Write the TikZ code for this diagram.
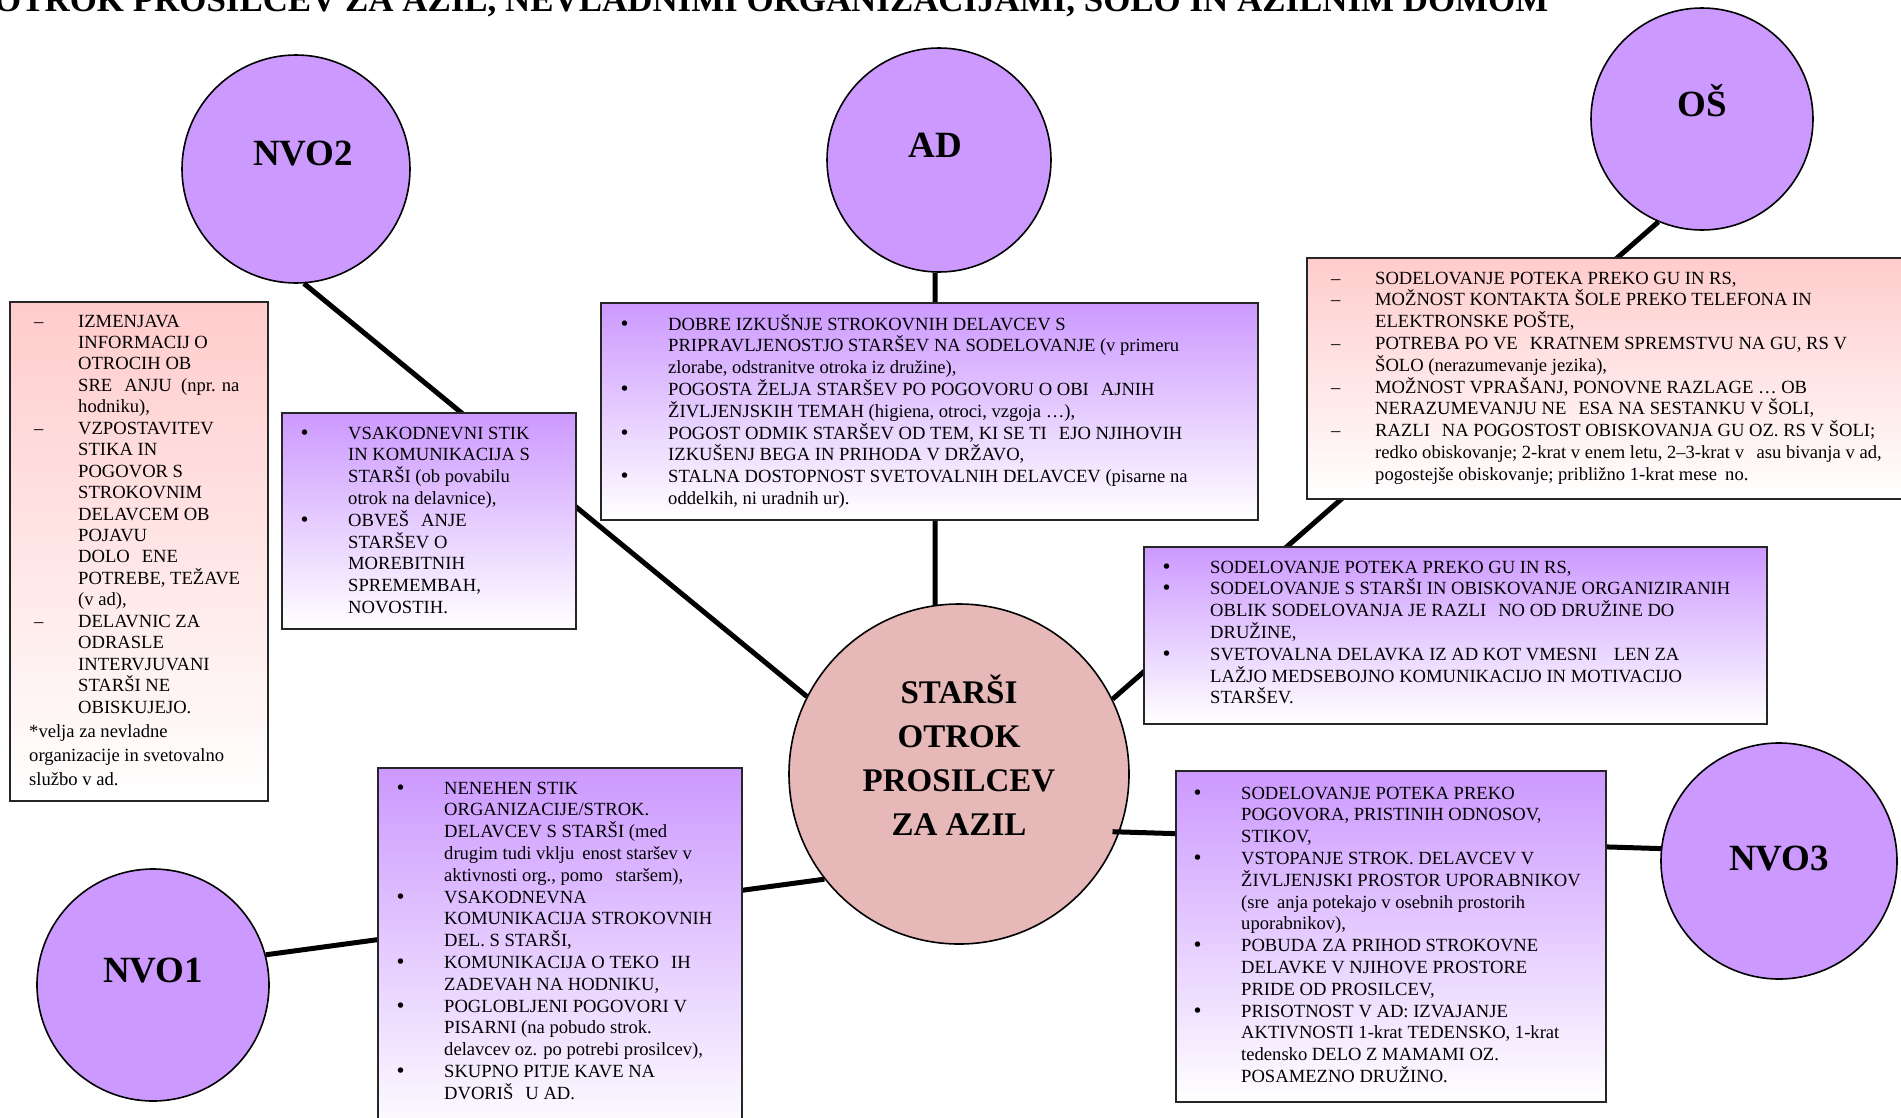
\documentclass[tikz,border=0pt]{standalone}
\usepackage{fontspec}
\setmainfont{Liberation Serif}
\newfontfamily\dvs{DejaVu Sans}
\usetikzlibrary{calc}
\definecolor{lav}{RGB}{204,153,255}
\definecolor{rose}{RGB}{230,184,183}
\definecolor{pinktop}{RGB}{255,204,204}
\newcommand\bul{{\dvs •}}
\newcommand\bitm[2][\bul]{\hbox{\llap{\makebox[49pt][l]{#1}}#2}}
\newcommand\ditm[1]{\hbox{\llap{\makebox[44pt][l]{–}}#1}}
\newcommand\ctl[1]{\hbox{#1}}
\newcommand\cln[1]{\hbox to 0pt{\hss#1\hss}}
\newcommand\gapU{\hspace*{12pt}}
\newcommand\gapL{\hspace*{8pt}}
\tikzset{
  circ/.style={circle, draw=black, line width=1.6pt, fill=lav, minimum size=#1, inner sep=0pt, text height=0pt, text depth=6pt, font=\fontsize{37}{40}\selectfont\bfseries},
  pbox/.style={rectangle, draw=black!85, line width=1.5pt, top color=lav, bottom color=white, anchor=north west, inner sep=0pt},
  rbox/.style={pbox, top color=pinktop, bottom color=white},
  txt/.style={anchor=base west, inner sep=0pt, font=\fontsize{18.6}{21.8}\selectfont},
  link/.style={line width=5pt, black},
}
\begin{document}
\begin{tikzpicture}[x=1pt,y=-1pt]
\useasboundingbox (0,0) rectangle (1901,1117);
\clip (0,0) rectangle (1901,1117);
\fill[white] (0,0) rectangle (1901,1117);
% title (cut at top, as in the reference)
\node[anchor=base west, inner sep=0pt, font=\fontsize{34.9}{36}\selectfont\bfseries] (title) at (-6,11) {OTROK PROSILCEV ZA AZIL, NEVLADNIMI ORGANIZACIJAMI, ŠOLO IN AZILNIM DOMOM};
% circles
\node[circ=228pt, text depth=8pt] (nvo2) at (296,169) {\hspace*{14pt}NVO2};
\node[circ=224pt] (ad) at (939,160) {AD\hspace*{8pt}};
\node[circ=222pt] (os) at (1702,119) {OŠ};
\node[circ=232pt] (nvo1) at (153,985) {NVO1};
\node[circ=236pt, text height=18pt, text depth=0pt] (nvo3) at (1779,861) {NVO3};
\node[circle, draw=black, line width=1.6pt, fill=rose, minimum size=340pt, inner sep=0pt] (ctr) at (959,774) {};
\node[anchor=base, inner sep=0pt, font=\fontsize{33}{44}\selectfont\bfseries] (ctrtxt) at (959,703) {\vtop{\cln{STARŠI}\cln{OTROK}\cln{PROSILCEV}\cln{ZA AZIL}}};
% connectors
\coordinate (c3) at ($(ctr)+(-20.6:164pt)$);
\draw[link] (nvo2.-86) -- (ctr.153);
\draw[link] (ad.-92) -- (ctr.98);
\draw[link] (os.-113) -- (ctr.26.6);
\draw[link] (nvo1.15) -- (ctr.218.7);
\draw[link] (nvo3.174) -- (c3);
% boxes
\node[rbox, minimum width=258pt, minimum height=499pt] (lbox) at (9,301) {};
\node[pbox, minimum width=294pt, minimum height=216pt] (nvo2box) at (281,412) {};
\node[pbox, minimum width=657pt, minimum height=217pt] (adbox) at (600,302) {};
\node[rbox, minimum width=620pt, minimum height=241pt] (osbox) at (1306,257) {};
\node[pbox, minimum width=623pt, minimum height=177pt] (midbox) at (1143,546) {};
\node[pbox, minimum width=364pt, minimum height=370pt] (nvo1box) at (377,767) {};
\node[pbox, minimum width=430pt, minimum height=331pt] (nvo3box) at (1175,770) {};
% box texts
\node[txt, font=\fontsize{18.6}{21.45}\selectfont] (ltxt) at (78,327) {\vtop{%
\ditm{IZMENJAVA}
\ctl{INFORMACIJ O}
\ctl{OTROCIH OB}
\ctl{SRE\gapU ANJU\ \ (npr. na}
\ctl{hodniku),}
\ditm{VZPOSTAVITEV}
\ctl{STIKA IN}
\ctl{POGOVOR S}
\ctl{STROKOVNIM}
\ctl{DELAVCEM OB}
\ctl{POJAVU}
\ctl{DOLO\gapU ENE}
\ctl{POTREBE, TEŽAVE}
\ctl{(v ad),}
\ditm{DELAVNIC ZA}
\ctl{ODRASLE}
\ctl{INTERVJUVANI}
\ctl{STARŠI NE}
\ctl{OBISKUJEJO.}
\baselineskip=24pt
\ctl{\hspace*{-49pt}*velja za nevladne}
\ctl{\hspace*{-49pt}organizacije in svetovalno}
\ctl{\hspace*{-49pt}službo v ad.}}};
\node[txt] (nvo2txt) at (348,439) {\vtop{%
\bitm{VSAKODNEVNI STIK}
\ctl{IN KOMUNIKACIJA S}
\ctl{STARŠI (ob povabilu}
\ctl{otrok na delavnice),}
\bitm{OBVEŠ\gapU ANJE}
\ctl{STARŠEV O}
\ctl{MOREBITNIH}
\ctl{SPREMEMBAH,}
\ctl{NOVOSTIH.}}};
\node[txt] (adtxt) at (668,330) {\vtop{%
\bitm{DOBRE IZKUŠNJE STROKOVNIH DELAVCEV S}
\ctl{PRIPRAVLJENOSTJO STARŠEV NA SODELOVANJE (v primeru}
\ctl{zlorabe, odstranitve otroka iz družine),}
\bitm{POGOSTA ŽELJA STARŠEV PO POGOVORU O OBI\gapU AJNIH}
\ctl{ŽIVLJENJSKIH TEMAH (higiena, otroci, vzgoja …),}
\bitm{POGOST ODMIK STARŠEV OD TEM, KI SE TI\gapU EJO NJIHOVIH}
\ctl{IZKUŠENJ BEGA IN PRIHODA V DRŽAVO,}
\bitm{STALNA DOSTOPNOST SVETOVALNIH DELAVCEV (pisarne na}
\ctl{oddelkih, ni uradnih ur).}}};
\node[txt] (ostxt) at (1375,284) {\vtop{%
\ditm{SODELOVANJE POTEKA PREKO GU IN RS,}
\ditm{MOŽNOST KONTAKTA ŠOLE PREKO TELEFONA IN}
\ctl{ELEKTRONSKE POŠTE,}
\ditm{POTREBA PO VE\gapU KRATNEM SPREMSTVU NA GU, RS V}
\ctl{ŠOLO (nerazumevanje jezika),}
\ditm{MOŽNOST VPRAŠANJ, PONOVNE RAZLAGE … OB}
\ctl{NERAZUMEVANJU NE\gapU ESA NA SESTANKU V ŠOLI,}
\ditm{RAZLI\gapU NA POGOSTOST OBISKOVANJA GU OZ. RS V ŠOLI;}
\ctl{redko obiskovanje; 2-krat v enem letu, 2–3-krat v \gapL asu bivanja v ad,}
\ctl{pogostejše obiskovanje; približno 1-krat mese\gapL no.}}};
\node[txt] (midtxt) at (1210,573) {\vtop{%
\bitm{SODELOVANJE POTEKA PREKO GU IN RS,}
\bitm{SODELOVANJE S STARŠI IN OBISKOVANJE ORGANIZIRANIH}
\ctl{OBLIK SODELOVANJA JE RAZLI\gapU NO OD DRUŽINE DO}
\ctl{DRUŽINE,}
\bitm{SVETOVALNA DELAVKA IZ AD KOT VMESNI \gapU LEN ZA}
\ctl{LAŽJO MEDSEBOJNO KOMUNIKACIJO IN MOTIVACIJO}
\ctl{STARŠEV.}}};
\node[txt] (nvo1txt) at (444,794) {\vtop{%
\bitm{NENEHEN STIK}
\ctl{ORGANIZACIJE/STROK.}
\ctl{DELAVCEV S STARŠI (med}
\ctl{drugim tudi vklju\gapL enost staršev v}
\ctl{aktivnosti org., pomo\gapL\ staršem),}
\bitm{VSAKODNEVNA}
\ctl{KOMUNIKACIJA STROKOVNIH}
\ctl{DEL. S STARŠI,}
\bitm{KOMUNIKACIJA O TEKO\gapU IH}
\ctl{ZADEVAH NA HODNIKU,}
\bitm{POGLOBLJENI POGOVORI V}
\ctl{PISARNI (na pobudo strok.}
\ctl{delavcev oz. po potrebi prosilcev),}
\bitm{SKUPNO PITJE KAVE NA}
\ctl{DVORIŠ\gapU U AD.}}};
\node[txt] (nvo3txt) at (1241,799) {\vtop{%
\bitm{SODELOVANJE POTEKA PREKO}
\ctl{POGOVORA, PRISTINIH ODNOSOV,}
\ctl{STIKOV,}
\bitm{VSTOPANJE STROK. DELAVCEV V}
\ctl{ŽIVLJENJSKI PROSTOR UPORABNIKOV}
\ctl{(sre\gapL anja potekajo v osebnih prostorih}
\ctl{uporabnikov),}
\bitm{POBUDA ZA PRIHOD STROKOVNE}
\ctl{DELAVKE V NJIHOVE PROSTORE}
\ctl{PRIDE OD PROSILCEV,}
\bitm{PRISOTNOST V AD: IZVAJANJE}
\ctl{AKTIVNOSTI 1-krat TEDENSKO, 1-krat}
\ctl{tedensko DELO Z MAMAMI OZ.}
\ctl{POSAMEZNO DRUŽINO.}}};
\end{tikzpicture}
\end{document}
